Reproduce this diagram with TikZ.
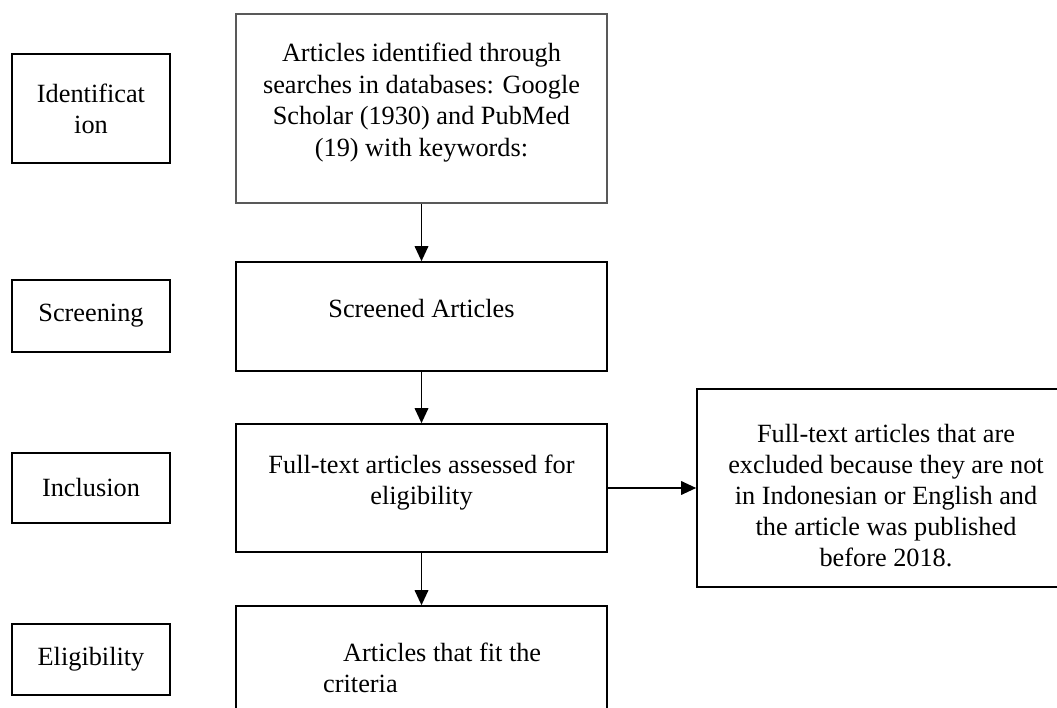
\documentclass[tikz,border=0pt]{standalone}
\usepackage{fontspec}
\setmainfont{Liberation Serif}
\usetikzlibrary{arrows.meta}
\begin{document}
\begin{tikzpicture}[x=1pt,y=-1pt,
  box/.style={draw=black,line width=1.6pt,rectangle,inner sep=0pt},
  txt/.style={font=\fontsize{26.3pt}{31pt}\selectfont,inner sep=0pt,align=center},
  arr/.style={-{Triangle[length=15pt,width=13.5pt]},line width=1.8pt}]
\useasboundingbox (0,0) rectangle (1057,708);
\fill[white] (0,0) rectangle (1057,708);
\clip (0,0) rectangle (1057,708);
% stage labels
\node[box,txt,minimum width=158pt,minimum height=109pt] (ident) at (91,108.5) {Identificat\\ion};
\node[box,txt,minimum width=158pt,minimum height=72pt] (screen) at (91,316) {Screening};
\node[box,txt,minimum width=158pt,minimum height=70pt] (incl) at (91,488) {Inclusion};
\node[box,txt,minimum width=158pt,minimum height=71pt] (elig) at (91,659.5) {Eligibility};
% main column boxes
\node[box,draw=black!65,minimum width=371pt,minimum height=189pt] (top) at (421.5,108.5) {};
\node[box,minimum width=371pt,minimum height=109pt] (screened) at (421.5,316.5) {};
\node[box,minimum width=371pt,minimum height=128pt] (full) at (421.5,488) {};
\node[box,minimum width=371pt,minimum height=174pt] (fit) at (421.5,693) {};
\node[box,minimum width=378pt,minimum height=198pt] (excl) at (886,488) {};
% texts
\node[txt,anchor=north,font=\fontsize{26.3pt}{31.6pt}\selectfont] (toptxt) at (421.5,43) {Articles identified through\\searches in databases: Google\\Scholar (1930) and PubMed\\(19) with keywords:};
\node[txt,anchor=north] (scrtxt) at (421.5,299) {Screened Articles};
\node[txt,anchor=north] (fulltxt) at (421.5,455) {Full-text articles assessed for\\eligibility};
\node[txt,align=left,anchor=north west] (fittxt) at (323,643) {\hspace*{20pt}Articles that fit the\\criteria};
\node[txt,anchor=north] (excltxt) at (886,424) {Full-text articles that are\\excluded because they are not\\in Indonesian or English and\\the article was published\\before 2018.};
% connectors
\draw[arr] (top.south) -- (screened.north);
\draw[arr] (screened.south) -- (full.north);
\draw[arr] (full.south) -- (fit.north);
\draw[arr] (full.east) -- (excl.west);
\end{tikzpicture}
\end{document}
